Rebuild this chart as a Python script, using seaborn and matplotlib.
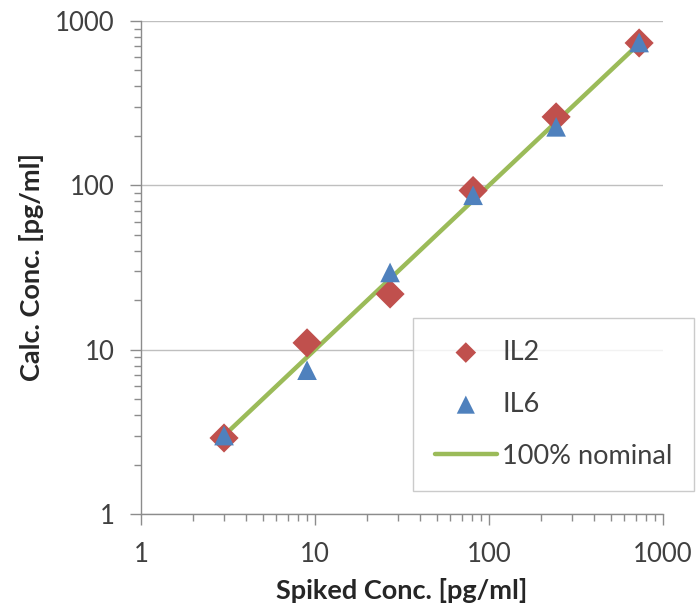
import matplotlib
matplotlib.use("Agg")
import matplotlib.pyplot as plt
import seaborn as sns
import pandas as pd
from matplotlib.ticker import LogLocator, FixedLocator, NullFormatter

# spiked concentrations (3-fold dilution series)
spiked = [3, 9, 27, 81, 243, 729]
il2 = [2.9, 11.0, 21.8, 93, 261, 735]
il6 = [3.0, 7.5, 29.5, 87, 227, 740]
nominal = [3, 9, 27, 81, 243, 729]
ticks = [1, 10, 100, 1000]
tick_labels = ["1", "10", "100", "1000"]

sns.set_style("white")
plt.rcParams['font.family'] = ['Lato', 'DejaVu Sans']

fig = plt.figure(figsize=(6.96, 6.11), dpi=100)
ax = fig.add_axes([0.2026, 0.1588, 0.75, 0.8068])

df = pd.DataFrame({"x": spiked, "IL2": il2, "IL6": il6, "nom": nominal})

sns.scatterplot(data=df, x="x", y="IL2", marker="D", s=220, color="#C0504D",
                edgecolor="none", label="IL2", ax=ax, zorder=3)
sns.scatterplot(data=df, x="x", y="IL6", marker="^", s=200, color="#4F81BD",
                edgecolor="none", label="IL6", ax=ax, zorder=4)
sns.lineplot(data=df, x="x", y="nom", color="#9BBB59", linewidth=3.2,
             label="100% nominal", ax=ax, zorder=2.5)

ax.set_xscale("log")
ax.set_yscale("log")
ax.set_xlim(1, 1000)
ax.set_ylim(1, 1000)

ax.xaxis.set_major_locator(FixedLocator(ticks))
ax.yaxis.set_major_locator(FixedLocator(ticks))
ax.set_xticklabels(tick_labels)
ax.set_yticklabels(tick_labels)
ax.xaxis.set_minor_locator(LogLocator(base=10, subs=range(2, 10)))
ax.yaxis.set_minor_locator(LogLocator(base=10, subs=range(2, 10)))
ax.xaxis.set_minor_formatter(NullFormatter())
ax.yaxis.set_minor_formatter(NullFormatter())

ax.tick_params(which="major", direction="out", length=8, width=1, color="#8C8C8C",
               labelsize=18.5, labelcolor="#404040", bottom=True, left=True)
ax.tick_params(axis="y", which="major", pad=11)
ax.tick_params(axis="x", which="major", pad=12)
ax.tick_params(which="minor", direction="out", length=5, width=1, color="#8C8C8C",
               bottom=True, left=True)

ax.grid(axis="y", which="major", color="#BFBFBF", linewidth=1)
ax.grid(axis="x", visible=False)

for side in ["top", "right"]:
    ax.spines[side].set_visible(False)
for side in ["left", "bottom"]:
    ax.spines[side].set_color("#8C8C8C")
    ax.spines[side].set_linewidth(1)

ax.set_xlabel("Spiked Conc. [pg/ml]", fontsize=19.5, fontweight="bold",
              color="#262626", labelpad=8)
ax.set_ylabel("Calc. Conc. [pg/ml]", fontsize=19.5, fontweight="bold",
              color="#262626", labelpad=8)

leg = ax.legend(loc="upper left", bbox_to_anchor=(413 / 696, 1 - 318 / 611),
                bbox_transform=fig.transFigure, borderaxespad=0, fontsize=19.5,
                frameon=True, fancybox=False, edgecolor="#BFBFBF",
                labelspacing=1.0, borderpad=0.8, handlelength=2.3,
                handletextpad=0.2, labelcolor="#404040")
leg.get_frame().set_linewidth(1)
leg.legend_handles[0].set_sizes([110])
leg.legend_handles[1].set_sizes([170])

fig.savefig("out.png", dpi=100)
